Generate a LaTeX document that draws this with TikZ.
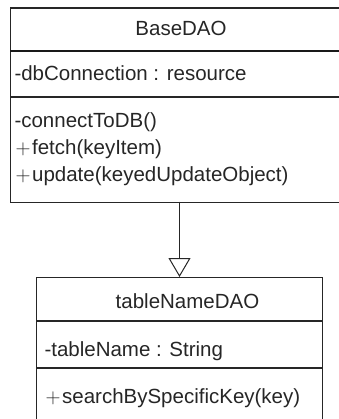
\documentclass[tikz,border=0pt]{standalone}
\usepackage{fontspec}
\setmainfont{Liberation Sans}
\usetikzlibrary{arrows.meta}
\newcommand{\vis}[1]{$#1$\kern1.5pt}
\begin{document}
\begin{tikzpicture}[x=1pt,y=-1pt,
  frame/.style={draw=black!85,line width=1.1pt},
  headrule/.style={draw=black!90,line width=1.7pt},
  rule/.style={draw=black!85,line width=1.1pt},
  title/.style={font=\fontsize{20.5}{24}\selectfont,anchor=base,inner sep=0pt,text=black!85},
  member/.style={font=\fontsize{20.5}{24}\selectfont,anchor=base west,inner sep=0pt,text=black!85},
  inherit/.style={draw=black!85,line width=1pt,-{Triangle[open,width=22pt,length=19pt,line width=1pt]}}]
\useasboundingbox (0,0) rectangle (338,419);
% base class box (runs past the right border)
\node[frame,anchor=north west,minimum width=343pt,minimum height=194.5pt,inner sep=0pt] (base) at (10,7.5) {};
\draw[headrule] (10,51) -- (353,51);
\draw[rule] (10,97) -- (353,97);
\node[title] (basename) at (181,36) {BaseDAO};
\node[member] (baseattr) at (14.3,80.5) {-dbConnection : resource};
\node[member] (m1) at (14.3,127.7) {-connectToDB()};
\node[member] (m2) at (15.5,154.3) {\vis{+}fetch(keyItem)};
\node[member] (m3) at (15.5,181.8) {\vis{+}update(keyedUpdateObject)};
% derived class box (runs past the bottom border)
\node[frame,anchor=north west,minimum width=286pt,minimum height=160pt,inner sep=0pt] (sub) at (36,277) {};
\draw[rule] (36,321) -- (322,321);
\draw[rule] (36,368) -- (322,368);
\node[title] (subname) at (187.5,308.5) {tableNameDAO};
\node[member] (subattr) at (44.3,356.7) {-tableName : String};
\node[member] (s1) at (45.5,403.3) {\vis{+}searchBySpecificKey(key)};
% generalisation
\coordinate (from) at (179.5,201.7);
\coordinate (to) at (179.5,277);
\draw[inherit] (from) -- (to);
\end{tikzpicture}
\end{document}
